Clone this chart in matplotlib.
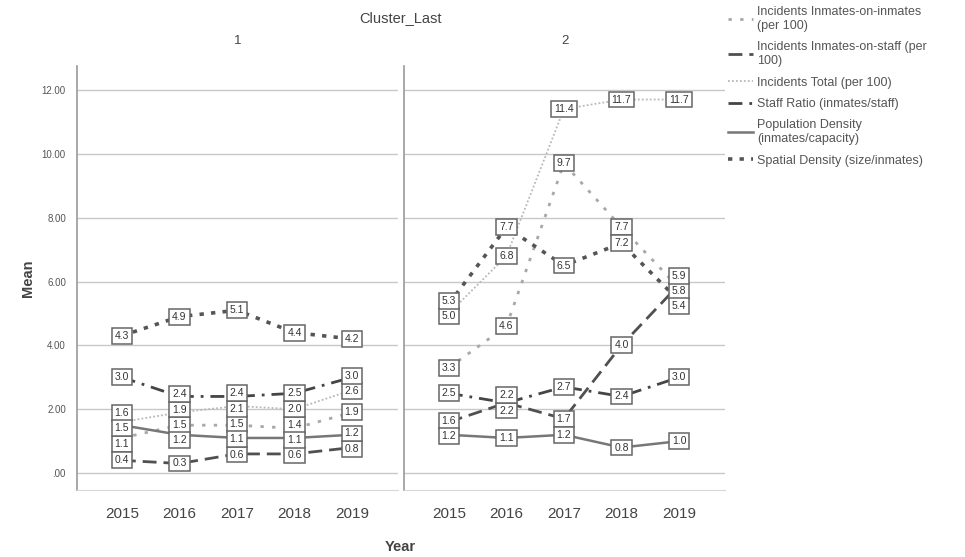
import matplotlib
matplotlib.use("Agg")
import matplotlib.pyplot as plt
from matplotlib.lines import Line2D
import numpy as np

plt.rcParams['font.family'] = ['Liberation Sans', 'DejaVu Sans']

years = [2015, 2016, 2017, 2018, 2019]
clusters = ["1", "2"]

series_names = [
    "Incidents Inmates-on-inmates\n(per 100)",
    "Incidents Inmates-on-staff (per\n100)",
    "Incidents Total (per 100)",
    "Staff Ratio (inmates/staff)",
    "Population Density\n(inmates/capacity)",
    "Spatial Density (size/inmates)",
]

# cluster 1
c1_on_inmates = [1.1, 1.5, 1.5, 1.4, 1.9]
c1_on_staff = [0.4, 0.3, 0.6, 0.6, 0.8]
c1_total = [1.6, 1.9, 2.1, 2.0, 2.6]
c1_staff_ratio = [3.0, 2.4, 2.4, 2.5, 3.0]
c1_pop_density = [1.5, 1.2, 1.1, 1.1, 1.2]
c1_spatial = [4.3, 4.9, 5.1, 4.4, 4.2]

# cluster 2
c2_on_inmates = [3.3, 4.6, 9.7, 7.7, 5.8]
c2_on_staff = [1.6, 2.2, 1.7, 4.0, 5.9]
c2_total = [5.0, 6.8, 11.4, 11.7, 11.7]
c2_staff_ratio = [2.5, 2.2, 2.7, 2.4, 3.0]
c2_pop_density = [1.2, 1.1, 1.2, 0.8, 1.0]
c2_spatial = [5.3, 7.7, 6.5, 7.2, 5.4]

cluster_data = [
    [c1_on_inmates, c1_on_staff, c1_total, c1_staff_ratio, c1_pop_density, c1_spatial],
    [c2_on_inmates, c2_on_staff, c2_total, c2_staff_ratio, c2_pop_density, c2_spatial],
]

styles = [
    dict(color="#a8a8a8", linestyle=(0, (1.2, 3.0)), linewidth=2.0),
    dict(color="#505050", linestyle=(0, (5, 2.5)), linewidth=2.0),
    dict(color="#b8b8b8", linestyle=(0, (1, 1.2)), linewidth=1.3),
    dict(color="#454545", linestyle=(0, (5, 2.5, 1, 2.5)), linewidth=2.0),
    dict(color="#777777", linestyle="-", linewidth=1.8),
    dict(color="#555555", linestyle=(0, (1.2, 2.0)), linewidth=2.6),
]

fig = plt.figure(figsize=(9.65, 5.57), dpi=100)
W, H = 965, 557
panel_px = [(77, 398), (404, 725)]
top_px, bot_px = 66, 490
axes = []
for (l, r) in panel_px:
    ax = fig.add_axes([l / W, 1 - bot_px / H, (r - l) / W, (bot_px - top_px) / H])
    axes.append(ax)

x = np.arange(len(years))
sep = 0.48

def spread(vals, gap):
    order = np.argsort(vals)
    pos = np.array(vals, dtype=float)[order]
    for _ in range(200):
        moved = False
        for i in range(len(pos) - 1):
            d = pos[i + 1] - pos[i]
            if d < gap - 1e-6:
                push = (gap - d) / 2
                pos[i] -= push
                pos[i + 1] += push
                moved = True
        if not moved:
            break
    out = np.empty_like(pos)
    out[order] = pos
    return out

for ci, ax in enumerate(axes):
    data = cluster_data[ci]
    for si, vals in enumerate(data):
        ax.plot(x, vals, **styles[si], zorder=3)
    for xi in range(len(years)):
        vals = [data[si][xi] for si in range(len(data))]
        ypos = spread(vals, sep)
        for si in range(len(data)):
            ax.text(xi, ypos[si], f"{vals[si]:.1f}", ha="center", va="center",
                    fontsize=7.5, color="#333333", zorder=5,
                    bbox=dict(boxstyle="square,pad=0.28", facecolor="white",
                              edgecolor="#666666", linewidth=1.1))
    ax.set_xlim(-0.78, 4.8)
    ax.set_ylim(-0.53, 12.75)
    ax.set_yticks(np.arange(0, 13, 2))
    ax.grid(axis="y", color="#c8c8c8", linewidth=1.0, zorder=0)
    ax.set_axisbelow(True)
    ax.set_xticks(x)
    ax.set_xticklabels([str(y) for y in years], fontsize=11, color="#444444")
    ax.tick_params(axis="both", length=0, pad=12)
    for s in ["top", "right"]:
        ax.spines[s].set_visible(False)
    ax.spines["left"].set_color("#9a9a9a")
    ax.spines["left"].set_linewidth(1.2)
    ax.spines["bottom"].set_color("#d8d8d8")
    ax.set_title(clusters[ci], fontsize=9.5, color="#444444", pad=16)

axes[0].set_yticklabels([".00" if v == 0 else f"{v:.2f}" for v in range(0, 13, 2)],
                        fontsize=7, color="#555555")
axes[0].tick_params(axis="y", pad=8)
axes[1].set_yticklabels([])

fig.text(401 / W, 1 - 18 / H, "Cluster_Last", ha="center", va="center",
         fontsize=10.5, color="#444444")
fig.text(28 / W, 1 - 278 / H, "Mean", rotation=90, ha="center", va="center",
         fontsize=10.5, fontweight="bold", color="#444444")
fig.text(400 / W, 1 - 547 / H, "Year", ha="center", va="center",
         fontsize=10.5, fontweight="bold", color="#444444")

handles = [Line2D([0], [0], **styles[i]) for i in range(len(series_names))]
fig.legend(handles, series_names, loc="upper left", bbox_to_anchor=(722 / W, 1.0),
           frameon=False, fontsize=9, handlelength=2.0, handletextpad=0.3,
           labelspacing=0.75, labelcolor="#555555", borderaxespad=0.1)

fig.savefig("out.png", dpi=100)
